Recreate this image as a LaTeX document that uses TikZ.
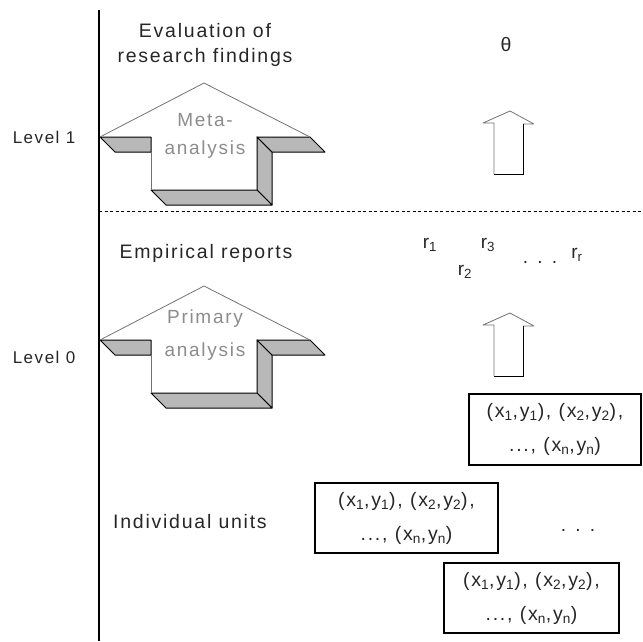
\documentclass[tikz,border=0pt]{standalone}
\usepackage{fontspec}
\setmainfont{Liberation Sans}[LetterSpace=9]
\begin{document}
\begin{tikzpicture}[x=1pt,y=-1pt,
  txt/.style={font=\fontsize{19.5}{25}\selectfont, text=black!85, align=center, inner sep=0pt},
  lvl/.style={font=\fontsize{17}{20}\selectfont, text=black!85, inner sep=0pt},
  intxt/.style={font=\fontsize{19}{25}\selectfont, text=black!45, inner sep=0pt},
  rlbl/.style={font=\fontsize{19}{20}\selectfont, text=black!85, inner sep=0pt},
  shade/.style={fill=black!28, draw=black, line width=1pt, line join=round},
  outl/.style={draw=black!55, line width=0.8pt, line join=round},
  databox/.style={draw=black, line width=1.2pt, font=\fontsize{19.5}{34}\selectfont, text=black!85, align=center, inner sep=0pt}]
\useasboundingbox (0,0) rectangle (643,641);
% axis and level divider
\coordinate (axtop) at (99,10);
\coordinate (axbot) at (99,641);
\coordinate (dl) at (99,211);
\coordinate (dr) at (643,211);
\draw[line width=1.2pt] (axtop) -- (axbot);
\draw[line width=1pt, dash pattern=on 3pt off 2.5pt] (dl) -- (dr);
% big 3D arrows
\foreach \oy in {0,203}{
  \draw[shade] (100,137+\oy) -- (151,137+\oy) -- (151,152+\oy) -- (115,152+\oy) -- cycle;
  \draw[shade] (257,137+\oy) -- (272,152+\oy) -- (272,205+\oy) -- (257,190+\oy) -- cycle;
  \draw[shade] (257,137+\oy) -- (310,137+\oy) -- (325,152+\oy) -- (272,152+\oy) -- cycle;
  \draw[shade] (151,190+\oy) -- (257,190+\oy) -- (272,205+\oy) -- (166,205+\oy) -- cycle;
  \draw[outl] (100,137+\oy) -- (204,83+\oy) -- (310,137+\oy);
  \draw[outl] (151,152+\oy) -- (151,190+\oy);
}
% small arrows
\foreach \oy in {0,202}{
  \draw[outl] (494,174+\oy) -- (494,123+\oy) -- (483,123+\oy) -- (510,111+\oy) -- (534,124+\oy) -- (523,124+\oy);
  \draw[line width=0.9pt] (523,124+\oy) -- (523,174+\oy) -- (494,174+\oy);
}
% texts
\node[txt] (eval) at (205,45) {Evaluation of\\research findings};
\node[lvl] (lev1) at (44,137) {Level 1};
\node[lvl] (lev0) at (44,357) {Level 0};
\node[txt] (emp) at (206,253) {Empirical reports};
\node[txt] (ind) at (190,522) {Individual units};
\node[txt] (theta) at (506,45) {θ};
\node[intxt] (meta1) at (205,120) {Meta-};
\node[intxt] (meta2) at (205,150) {analysis};
\node[intxt] (prim1) at (205,319) {Primary};
\node[intxt] (prim2) at (205,352) {analysis};
% correlations
\node[rlbl] (r1) at (430,245) {r\textsubscript{1}};
\node[rlbl] (r3) at (488,245) {r\textsubscript{3}};
\node[rlbl] (r2) at (465,272) {r\textsubscript{2}};
\node[rlbl] (rdots) at (540,262) {. . .};
\node[rlbl] (rr) at (577,255) {r\textsubscript{r}};
% data boxes
\node[databox, minimum width=172, minimum height=71] (b1) at (555,429.5)
  {(x\textsubscript{1},y\textsubscript{1}), (x\textsubscript{2},y\textsubscript{2}),\\..., (x\textsubscript{n},y\textsubscript{n})};
\node[databox, minimum width=183, minimum height=70] (b2) at (406.5,518)
  {(x\textsubscript{1},y\textsubscript{1}), (x\textsubscript{2},y\textsubscript{2}),\\..., (x\textsubscript{n},y\textsubscript{n})};
\node[databox, minimum width=175, minimum height=70] (b3) at (531.5,598)
  {(x\textsubscript{1},y\textsubscript{1}), (x\textsubscript{2},y\textsubscript{2}),\\..., (x\textsubscript{n},y\textsubscript{n})};
\node[rlbl] (bdots) at (578,530) {. . .};
\end{tikzpicture}
\end{document}
